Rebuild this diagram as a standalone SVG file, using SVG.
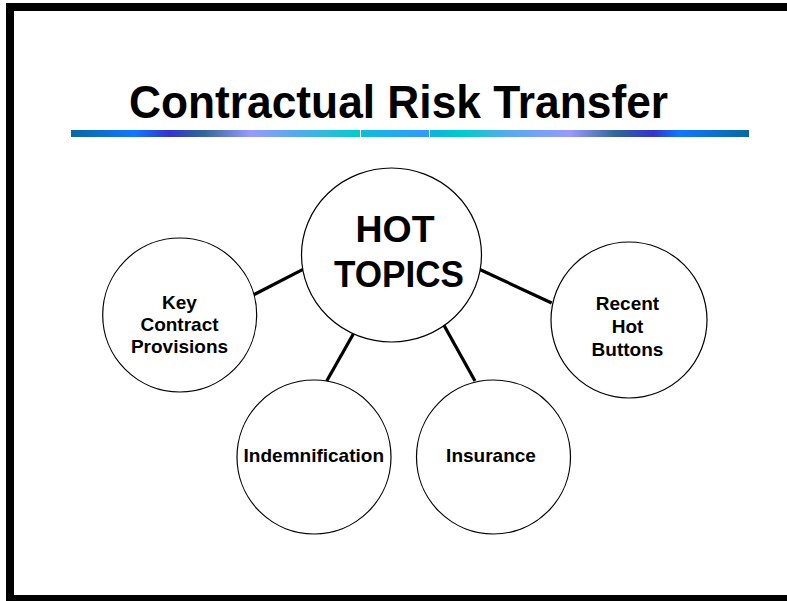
<svg xmlns="http://www.w3.org/2000/svg" width="787" height="601" viewBox="0 0 787 601">
  <defs>
    <linearGradient id="gL" x1="0" y1="0" x2="1" y2="0">
      <stop offset="0" stop-color="#0a68a0"/>
      <stop offset="0.22" stop-color="#1177ff"/>
      <stop offset="0.34" stop-color="#3333cc"/>
      <stop offset="0.46" stop-color="#336699"/>
      <stop offset="0.62" stop-color="#9999ff"/>
      <stop offset="0.78" stop-color="#55aaee"/>
      <stop offset="1" stop-color="#00cccc"/>
    </linearGradient>
    <linearGradient id="gM" x1="0" y1="0" x2="1" y2="0">
      <stop offset="0" stop-color="#11bbdd"/>
      <stop offset="1" stop-color="#3399ff"/>
    </linearGradient>
    <linearGradient id="gR" x1="0" y1="0" x2="1" y2="0">
      <stop offset="0" stop-color="#11b0e0"/>
      <stop offset="0.1" stop-color="#00cccc"/>
      <stop offset="0.24" stop-color="#55aaee"/>
      <stop offset="0.44" stop-color="#9999ff"/>
      <stop offset="0.58" stop-color="#336699"/>
      <stop offset="0.70" stop-color="#3333cc"/>
      <stop offset="0.78" stop-color="#1177ff"/>
      <stop offset="1" stop-color="#0a68a0"/>
    </linearGradient>
  </defs>
  <style>
    .node { fill: #ffffff; stroke: #000000; stroke-width: 1.2; }
    .lbl { font-family: "Liberation Sans", Arial, sans-serif; font-weight: bold; font-size: 19px; fill: #000000; text-anchor: middle; }
    .big { font-family: "Liberation Sans", Arial, sans-serif; font-weight: bold; font-size: 37px; fill: #000000; text-anchor: middle; }
    .title { font-family: "Liberation Sans", Arial, sans-serif; font-weight: bold; font-size: 46px; fill: #000000; text-anchor: middle; }
    .conn line { stroke: #000000; stroke-width: 3.2; stroke-linecap: butt; }
  </style>
  <rect x="0" y="0" width="787" height="601" fill="#ffffff"/>
  <!-- frame -->
  <rect x="6" y="3" width="781" height="8" fill="#000000"/>
  <rect x="6" y="3" width="8" height="598" fill="#000000"/>
  <rect x="6" y="595" width="781" height="6" fill="#000000"/>

  <text class="title" x="398.5" y="118" textLength="539" lengthAdjust="spacingAndGlyphs">Contractual Risk Transfer</text>

  <!-- gradient bar -->
  <rect x="71" y="130" width="289" height="7" fill="url(#gL)"/>
  <rect x="361" y="130" width="68" height="7" fill="url(#gM)"/>
  <rect x="430" y="130" width="319" height="7" fill="url(#gR)"/>

  <g id="connectors" class="conn">
    <line x1="250" y1="296.7" x2="303" y2="269.3"/>
    <line x1="479.3" y1="269.3" x2="551.7" y2="303"/>
    <line x1="353.3" y1="334" x2="326.7" y2="381"/>
    <line x1="442" y1="321.7" x2="475" y2="381"/>
  </g>

  <g id="hot-topics">
    <ellipse class="node" cx="391.5" cy="255" rx="90" ry="87"/>
    <text class="big" x="395" y="241.5" textLength="79" lengthAdjust="spacingAndGlyphs">HOT</text>
    <text class="big" x="399" y="287" textLength="130" lengthAdjust="spacingAndGlyphs">TOPICS</text>
  </g>

  <g id="key-contract-provisions">
    <circle class="node" cx="179.7" cy="315" r="77"/>
    <text class="lbl" x="179.5" y="309.3">Key</text>
    <text class="lbl" x="179.5" y="330.7">Contract</text>
    <text class="lbl" x="179.5" y="352.7">Provisions</text>
  </g>

  <g id="recent-hot-buttons">
    <circle class="node" cx="629" cy="320" r="78"/>
    <text class="lbl" x="627.5" y="310">Recent</text>
    <text class="lbl" x="627.5" y="333.3">Hot</text>
    <text class="lbl" x="627.5" y="355.7">Buttons</text>
  </g>

  <g id="indemnification">
    <circle class="node" cx="314" cy="457" r="77"/>
    <text class="lbl" x="313.8" y="461.7">Indemnification</text>
  </g>

  <g id="insurance">
    <circle class="node" cx="493.5" cy="457" r="77"/>
    <text class="lbl" x="491" y="461.7">Insurance</text>
  </g>
</svg>
